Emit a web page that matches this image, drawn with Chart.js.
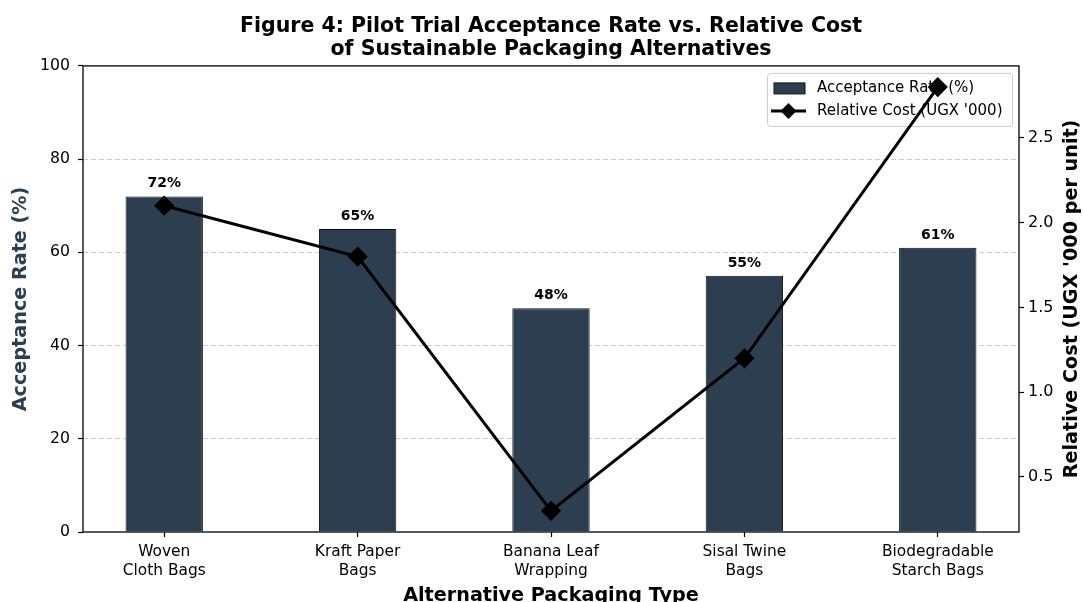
<!DOCTYPE html>
<html>
<head>
<meta charset="utf-8">
<script src="https://cdn.jsdelivr.net/npm/chart.js@4.4.1/dist/chart.umd.min.js"></script>
<style>
  html, body { margin: 0; padding: 0; background: #ffffff; }
  #wrap { width: 1083px; height: 602px; }
</style>
</head>
<body>
<div id="wrap"><canvas id="chart" width="1083" height="602"></canvas></div>
<script>
// Packaging alternatives tested in the pilot trial
const categories = [
  ['Woven', 'Cloth Bags'],
  ['Kraft Paper', 'Bags'],
  ['Banana Leaf', 'Wrapping'],
  ['Sisal Twine', 'Bags'],
  ['Biodegradable', 'Starch Bags']
];
// Share of participants accepting each option (%)
const acceptanceRate = [72, 65, 48, 55, 61];
// Relative cost per unit, UGX '000
const relativeCost = [2.1, 1.8, 0.3, 1.2, 2.8];
// Axis tick values
const rateTicks = [0, 20, 40, 60, 80, 100];
const costTicks = [0.5, 1.0, 1.5, 2.0, 2.5];

const FONT = "'DejaVu Sans', 'Liberation Sans', sans-serif";
const BAR_COLOR = '#2c3e50';
const AXIS_TITLE_SIZE = 19.2;
const COST_AXIS_TITLE = "Relative Cost (UGX '000 per unit)";

// Auto-style axis limits: 5% margin around the data extent
const costSpan = Math.max(...relativeCost) - Math.min(...relativeCost);
const costMin = Math.min(...relativeCost) - 0.05 * costSpan;
const costMax = Math.max(...relativeCost) + 0.05 * costSpan;
const barHalf = 0.2;
const xSpan = (categories.length - 1) + 2 * barHalf;
const xMin = -barHalf - 0.05 * xSpan;
const xMax = (categories.length - 1) + barHalf + 0.05 * xSpan;

const barPoints = acceptanceRate.map((v, i) => ({ x: i, y: v }));
const costPoints = relativeCost.map((v, i) => ({ x: i, y: v }));

// Percentage labels above each bar
const barValueLabels = {
  id: 'barValueLabels',
  afterDatasetsDraw(chart) {
    const ctx = chart.ctx;
    const meta = chart.getDatasetMeta(0);
    ctx.save();
    ctx.font = "bold 14px " + FONT;
    ctx.fillStyle = '#000';
    ctx.textAlign = 'center';
    ctx.textBaseline = 'alphabetic';
    meta.data.forEach((bar, i) => {
      ctx.fillText(acceptanceRate[i] + '%', bar.x, bar.y - 9);
    });
    ctx.restore();
  }
};

// Frame around the plotting area and the right-hand axis title
const plotFrame = {
  id: 'plotFrame',
  afterDatasetsDraw(chart) {
    const { ctx, chartArea: a } = chart;
    ctx.save();
    ctx.strokeStyle = '#000';
    ctx.lineWidth = 1.3;
    ctx.strokeRect(a.left, a.top, a.right - a.left, a.bottom - a.top);
    ctx.restore();
  },
  afterDraw(chart) {
    const { ctx, chartArea: a } = chart;
    ctx.save();
    ctx.translate(1072, (a.top + a.bottom) / 2);
    ctx.rotate(-Math.PI / 2);
    ctx.font = "bold " + AXIS_TITLE_SIZE + "px " + FONT;
    ctx.fillStyle = '#000';
    ctx.textAlign = 'center';
    ctx.textBaseline = 'middle';
    ctx.fillText(COST_AXIS_TITLE, 0, 0);
    ctx.restore();
  }
};

// Legend box in the upper-right corner of the plot
const legendBox = {
  id: 'legendBox',
  beforeDatasetsDraw(chart) {
    const { ctx, chartArea: a } = chart;
    const ds = chart.data.datasets;
    const w = 245, h = 53;
    const x = a.right - 7 - w, y = a.top + 7;
    ctx.save();
    ctx.fillStyle = 'rgba(255,255,255,0.8)';
    ctx.strokeStyle = '#cccccc';
    ctx.lineWidth = 1;
    ctx.beginPath();
    ctx.roundRect(x + 0.5, y + 0.5, w, h, 3);
    ctx.fill();
    ctx.stroke();

    // bar entry
    const r1 = y + 15;
    ctx.fillStyle = BAR_COLOR;
    ctx.fillRect(x + 7, r1 - 5, 31, 11);
    ctx.strokeStyle = '#111';
    ctx.lineWidth = 1;
    ctx.strokeRect(x + 7, r1 - 5, 31, 11);

    // line entry
    const r2 = y + 38;
    ctx.strokeStyle = '#000';
    ctx.lineWidth = 3;
    ctx.beginPath();
    ctx.moveTo(x + 4, r2);
    ctx.lineTo(x + 39, r2);
    ctx.stroke();
    ctx.fillStyle = '#000';
    ctx.beginPath();
    const cx = x + 21.5, rr = 8;
    ctx.moveTo(cx, r2 - rr);
    ctx.lineTo(cx + rr, r2);
    ctx.lineTo(cx, r2 + rr);
    ctx.lineTo(cx - rr, r2);
    ctx.closePath();
    ctx.fill();

    ctx.fillStyle = '#000';
    ctx.font = "15px " + FONT;
    ctx.textAlign = 'left';
    ctx.textBaseline = 'middle';
    ctx.fillText(ds[0].label, x + 50, r1);
    ctx.fillText(ds[1].label, x + 50, r2);
    ctx.restore();
  }
};

new Chart(document.getElementById('chart'), {
  type: 'bar',
  data: {
    datasets: [
      {
        type: 'bar',
        label: 'Acceptance Rate (%)',
        data: barPoints,
        yAxisID: 'y',
        backgroundColor: BAR_COLOR,
        borderColor: '#111111',
        borderWidth: 1,
        categoryPercentage: 1.0,
        barPercentage: 0.4,
        order: 2
      },
      {
        type: 'line',
        label: "Relative Cost (UGX '000)",
        data: costPoints,
        yAxisID: 'y1',
        borderColor: '#000000',
        backgroundColor: '#000000',
        borderWidth: 3,
        pointStyle: 'rectRot',
        pointRadius: 8,
        pointBackgroundColor: '#000000',
        pointBorderColor: '#000000',
        tension: 0,
        order: 1
      }
    ]
  },
  options: {
    responsive: false,
    animation: false,
    layout: { padding: 0 },
    plugins: {
      legend: { display: false },
      tooltip: { enabled: false },
      title: {
        display: true,
        fullSize: false,
        text: ['Figure 4: Pilot Trial Acceptance Rate vs. Relative Cost',
               'of Sustainable Packaging Alternatives'],
        color: '#000',
        font: { family: FONT, size: 20.5, weight: 'bold', lineHeight: 1.12 },
        padding: { top: 15.5, bottom: 4.5 }
      }
    },
    scales: {
      x: {
        type: 'linear',
        min: xMin,
        max: xMax,
        offset: false,
        afterBuildTicks(scale) { scale.ticks = categories.map((_, i) => ({ value: i })); },
        afterFit(scale) { scale.height = 70; },
        ticks: {
          callback: (v) => categories[v],
          color: '#000',
          font: { family: FONT, size: 15.4, lineHeight: 1.22 },
          padding: 6,
          maxRotation: 0,
          autoSkip: false
        },
        grid: { offset: false, drawOnChartArea: false, tickLength: 5, tickColor: '#000', tickWidth: 1.2 },
        border: { display: false },
        title: {
          display: true,
          text: 'Alternative Packaging Type',
          color: '#000',
          font: { family: FONT, size: AXIS_TITLE_SIZE, weight: 'bold', lineHeight: 1.0 },
          padding: { top: 0, bottom: -4 }
        }
      },
      y: {
        type: 'linear',
        position: 'left',
        min: 0,
        max: 100,
        afterBuildTicks(scale) { scale.ticks = rateTicks.map(v => ({ value: v })); },
        afterFit(scale) { scale.width = 83; },
        ticks: {
          color: '#000',
          font: { family: FONT, size: 15.7 },
          padding: 8
        },
        grid: {
          color: (c) => (c.tick && (c.tick.value === 0 || c.tick.value === 100)) ? 'rgba(0,0,0,0)' : '#cccccc',
          lineWidth: 1,
          tickLength: 5,
          tickColor: '#000',
          tickWidth: 1.2,
          tickBorderDash: []
        },
        border: { display: false, dash: [5, 3] },
        title: {
          display: true,
          text: 'Acceptance Rate (%)',
          color: BAR_COLOR,
          font: { family: FONT, size: AXIS_TITLE_SIZE, weight: 'bold', lineHeight: 1.2 },
          padding: { top: 9, bottom: 0 }
        }
      },
      y1: {
        type: 'linear',
        position: 'right',
        min: costMin,
        max: costMax,
        afterBuildTicks(scale) { scale.ticks = costTicks.map(v => ({ value: v })); },
        afterFit(scale) { scale.width = 64; },
        ticks: {
          color: '#000',
          font: { family: FONT, size: 16 },
          padding: 4,
          callback: (v) => v.toFixed(1)
        },
        grid: { drawOnChartArea: false, tickLength: 5, tickColor: '#000', tickWidth: 1.2 },
        border: { display: false },
        title: { display: false }
      }
    }
  },
  plugins: [legendBox, barValueLabels, plotFrame]
});
</script>
</body>
</html>
